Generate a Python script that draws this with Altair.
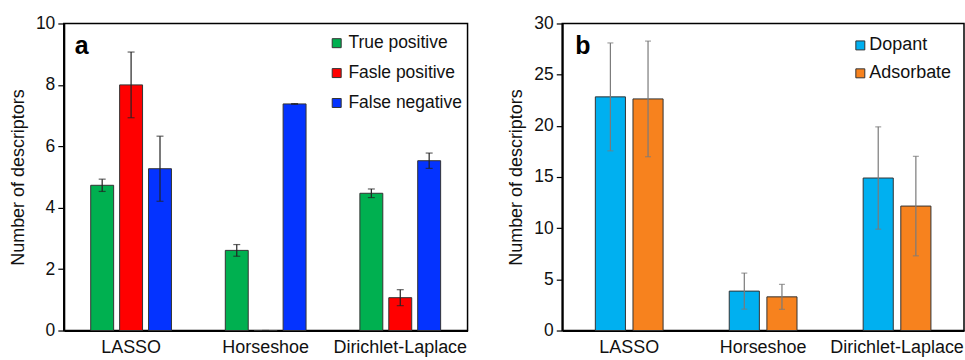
import altair as alt
import pandas as pd

FONT = "Liberation Sans"

methods = ["LASSO", "Horseshoe", "Dirichlet-Laplace"]

# Panel a: selection outcome counts
outcomes = ["True positive", "Fasle positive", "False negative"]
outcome_colors = ["#00B050", "#FF0000", "#0433FF"]
true_pos = [4.73, 2.61, 4.47]
true_pos_err = [0.20, 0.19, 0.14]
false_pos = [8.00, 0.0, 1.07]
false_pos_err = [1.07, 0.0, 0.26]
false_neg = [5.27, 7.38, 5.53]
false_neg_err = [1.06, 0.01, 0.25]

# Panel b: descriptor types selected
kinds = ["Dopant", "Adsorbate"]
kind_colors = ["#00B0F0", "#F7821E"]
dopant = [22.83, 3.85, 14.90]
dopant_err = [5.27, 1.76, 5.00]
adsorbate = [22.63, 3.29, 12.16]
adsorbate_err = [5.65, 1.22, 4.86]


def long_table(names, values, errors):
    rows = []
    for name, vals, errs in zip(names, values, errors):
        for m, v, e in zip(methods, vals, errs):
            rows.append({"method": m, "group": name, "value": v,
                         "lo": v - e, "hi": v + e})
    return pd.DataFrame(rows)


df_a = long_table(outcomes, [true_pos, false_pos, false_neg],
                  [true_pos_err, false_pos_err, false_neg_err])
df_b = long_table(kinds, [dopant, adsorbate], [dopant_err, adsorbate_err])


def panel(df, groups, colors, ymax, ystep, label, label_x, w, x_pi, x_po,
          off_pi, err_color, cap, leg):
    x = alt.X("method:N", sort=methods, title=None,
              scale=alt.Scale(paddingInner=x_pi, paddingOuter=x_po),
              axis=alt.Axis(labelAngle=0, ticks=False, labelPadding=8,
                            domainColor="black", domainWidth=2,
                            labelFontSize=18, labelColor="#111",
                            labelFont=FONT))
    xo = alt.XOffset("group:N", sort=groups,
                     scale=alt.Scale(paddingInner=off_pi, paddingOuter=0))
    y_scale = alt.Scale(domain=[0, ymax], nice=False)
    y = alt.Y("value:Q", scale=y_scale, title="Number of descriptors",
              axis=alt.Axis(values=list(range(0, ymax + 1, ystep)),
                            grid=False, tickSize=6, tickColor="black",
                            tickWidth=1.2, domainColor="black",
                            domainWidth=2, labelPadding=3,
                            labelFontSize=17.5, labelColor="#111",
                            labelFont=FONT, titleFont=FONT,
                            titleFontSize=18, titleFontWeight="normal",
                            titleColor="#111", titlePadding=8))
    color = alt.Color("group:N", sort=groups,
                      scale=alt.Scale(domain=groups, range=colors),
                      legend=alt.Legend(title=None, orient="none",
                                        legendX=leg["x"], legendY=leg["y"],
                                        symbolType="square",
                                        symbolSize=81,
                                        symbolStrokeColor="#333",
                                        symbolStrokeWidth=1,
                                        symbolOpacity=1,
                                        labelFontSize=leg["font"],
                                        labelFont=FONT,
                                        labelColor="#111",
                                        rowPadding=leg["row"],
                                        labelOffset=leg["gap"],
                                        padding=0))
    base = alt.Chart(df)
    bars = base.mark_bar(stroke="#333", strokeWidth=1).encode(
        x=x, xOffset=xo, y=y, color=color)
    rules = base.mark_rule(color=err_color, strokeWidth=1.2).encode(
        x=alt.X("method:N", sort=methods), xOffset=xo,
        y=alt.Y("lo:Q", scale=y_scale), y2="hi:Q")
    caps_hi = base.mark_tick(color=err_color, size=cap, thickness=1.2).encode(
        x=alt.X("method:N", sort=methods), xOffset=xo,
        y=alt.Y("hi:Q", scale=y_scale))
    caps_lo = base.mark_tick(color=err_color, size=cap, thickness=1.2).encode(
        x=alt.X("method:N", sort=methods), xOffset=xo,
        y=alt.Y("lo:Q", scale=y_scale))
    tag = alt.Chart(pd.DataFrame({"t": [label]})).mark_text(
        font=FONT, fontSize=25, fontWeight="bold", align="left",
        baseline="alphabetic", color="black").encode(
        x=alt.value(label_x), y=alt.value(31), text="t:N")
    return alt.layer(bars, rules, caps_hi, caps_lo, tag).properties(
        width=w, height=308)


chart_a = panel(df_a, outcomes, outcome_colors, 10, 2, "a", 11, 405,
                0.4, 0.2, 0.207, "#222", 7,
                {"x": 265, "y": 11, "font": 17.5, "row": 11, "gap": 3})
chart_b = panel(df_b, kinds, kind_colors, 30, 5, "b", 13, 403,
                0.494, 0.247, 0.2, "#7a7a7a", 6,
                {"x": 290, "y": 13, "font": 18, "row": 10, "gap": 0})

chart = alt.hconcat(chart_a, chart_b, spacing=38).resolve_scale(
    color="independent", x="independent", y="independent",
    xOffset="independent").properties(
    padding={"left": 8, "top": 13, "right": 0, "bottom": 0},
    background="white"
).configure_view(stroke="black", strokeWidth=1.5)

chart.save("out.html", embed_options={"renderer": "svg", "actions": False})
